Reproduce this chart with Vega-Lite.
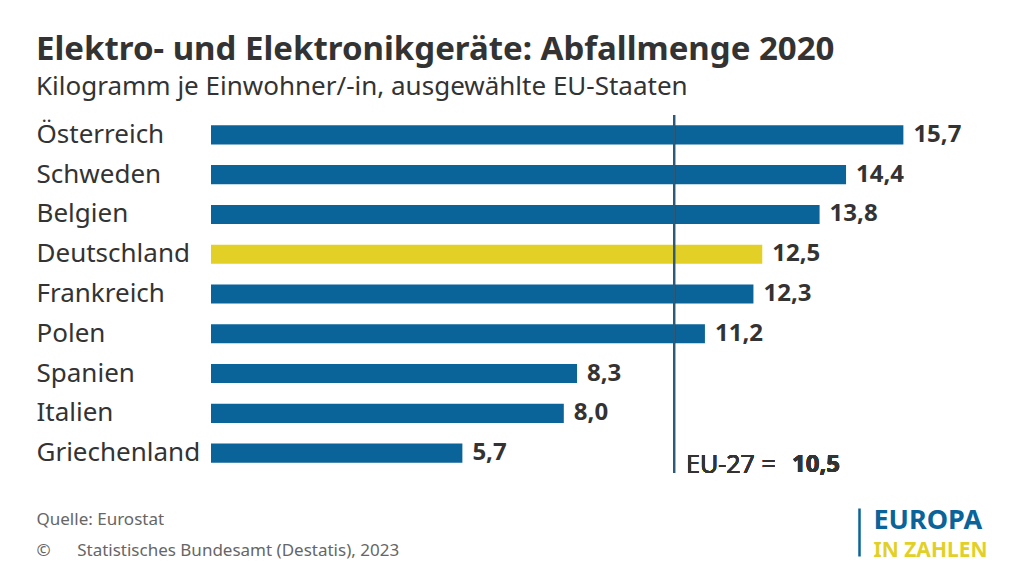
{
  "$schema": "https://vega.github.io/schema/vega-lite/v6.json",
  "width": 813,
  "height": 358,
  "autosize": {"type": "none"},
  "padding": {"left": 211, "top": 115, "right": 0, "bottom": 103},
  "background": "white",
  "config": {
    "view": {"stroke": null},
    "font": "Noto Sans",
    "locale": {"number": {"decimal": ",", "thousands": ".", "grouping": [3], "currency": ["", " €"]}}
  },
  "title": {
    "text": "Elektro- und Elektronikgeräte: Abfallmenge 2020",
    "subtitle": "Kilogramm je Einwohner/-in, ausgewählte EU-Staaten",
    "anchor": "start",
    "frame": "group",
    "dx": -175,
    "offset": 14,
    "fontSize": 33,
    "fontWeight": "bold",
    "color": "#333333",
    "subtitleFontSize": 26,
    "subtitleColor": "#333333",
    "subtitlePadding": 7
  },
  "data": {
    "values": [
      {"land": "Österreich", "wert": 15.7, "gruppe": "EU"},
      {"land": "Schweden", "wert": 14.4, "gruppe": "EU"},
      {"land": "Belgien", "wert": 13.8, "gruppe": "EU"},
      {"land": "Deutschland", "wert": 12.5, "gruppe": "DE"},
      {"land": "Frankreich", "wert": 12.3, "gruppe": "EU"},
      {"land": "Polen", "wert": 11.2, "gruppe": "EU"},
      {"land": "Spanien", "wert": 8.3, "gruppe": "EU"},
      {"land": "Italien", "wert": 8.0, "gruppe": "EU"},
      {"land": "Griechenland", "wert": 5.7, "gruppe": "EU"}
    ]
  },
  "layer": [
    {
      "encoding": {
        "y": {
          "field": "land",
          "type": "nominal",
          "sort": null,
          "scale": {"paddingInner": 0.52, "paddingOuter": 0.26},
          "axis": {
            "title": null,
            "orient": "left",
            "domain": false,
            "ticks": false,
            "grid": false,
            "labelAlign": "left",
            "labelPadding": 175,
            "labelFontSize": 26,
            "labelColor": "#333333",
            "labelLimit": 220
          }
        },
        "x": {
          "field": "wert",
          "type": "quantitative",
          "scale": {"domain": [0, 18.435], "nice": false},
          "axis": {
            "orient": "bottom",
            "domain": false,
            "ticks": false,
            "labels": false,
            "grid": false,
            "title": ["Quelle: Eurostat", "©\u00a0\u00a0\u00a0\u00a0\u00a0\u00a0Statistisches Bundesamt (Destatis), 2023"],
            "titleX": -175,
            "titleY": 51,
            "titleAlign": "left",
            "titleAnchor": "start",
            "titleBaseline": "alphabetic",
            "titleFontSize": 17,
            "titleFontWeight": "normal",
            "titleColor": "#666666",
            "titleLineHeight": 31
          }
        }
      },
      "layer": [
        {
          "mark": {"type": "bar"},
          "encoding": {
            "color": {
              "field": "gruppe",
              "type": "nominal",
              "scale": {"domain": ["EU", "DE"], "range": ["#0a6399", "#e2d026"]},
              "legend": null
            }
          }
        },
        {
          "mark": {"type": "text", "align": "left", "baseline": "middle", "dx": 10, "fontSize": 24, "fontWeight": "bold", "color": "#333333"},
          "encoding": {"text": {"field": "wert", "type": "quantitative", "format": ".1f"}}
        },
        {
          "mark": {"type": "rule", "color": "#2e5a7a", "strokeWidth": 2},
          "encoding": {"x": {"datum": 10.5, "type": "quantitative"}, "y": null}
        },
        {
          "mark": {"type": "text", "align": "left", "baseline": "middle", "dx": 12, "dy": 12, "fontSize": 25, "color": "#333333", "text": "EU-27 ="},
          "encoding": {"x": {"datum": 10.5, "type": "quantitative"}, "y": {"datum": "Griechenland", "type": "nominal"}}
        },
        {
          "mark": {"type": "text", "align": "left", "baseline": "middle", "dx": 118, "dy": 12, "fontSize": 24, "fontWeight": "bold", "color": "#333333", "text": "10,5"},
          "encoding": {"x": {"datum": 10.5, "type": "quantitative"}, "y": {"datum": "Griechenland", "type": "nominal"}}
        }
      ]
    },
    {
      "mark": {"type": "point", "opacity": 0},
      "encoding": {
        "x": {
          "datum": 0,
          "type": "quantitative",
          "scale": {"domain": [0, 813], "nice": false},
          "axis": {
            "orient": "bottom",
            "offset": 35,
            "values": [648],
            "domain": false,
            "labels": false,
            "grid": false,
            "ticks": true,
            "tickSize": 48,
            "tickWidth": 2.5,
            "tickColor": "#0a6399",
            "title": "EUROPA",
            "titleX": 662,
            "titleY": 20,
            "titleAlign": "left",
            "titleBaseline": "alphabetic",
            "titleFontSize": 27,
            "titleFontWeight": "bold",
            "titleColor": "#0a6399"
          }
        },
        "y": {
          "datum": 0,
          "type": "quantitative",
          "scale": {"domain": [0, 1]},
          "axis": {
            "orient": "right",
            "domain": false,
            "labels": false,
            "ticks": false,
            "grid": false,
            "title": "IN ZAHLEN",
            "titleAngle": 0,
            "titleX": -151,
            "titleY": 441,
            "titleAlign": "left",
            "titleBaseline": "alphabetic",
            "titleFontSize": 21,
            "titleFontWeight": "bold",
            "titleColor": "#e2d026"
          }
        }
      }
    }
  ],
  "resolve": {"scale": {"x": "independent", "y": "independent"}, "axis": {"x": "independent", "y": "independent"}}
}
